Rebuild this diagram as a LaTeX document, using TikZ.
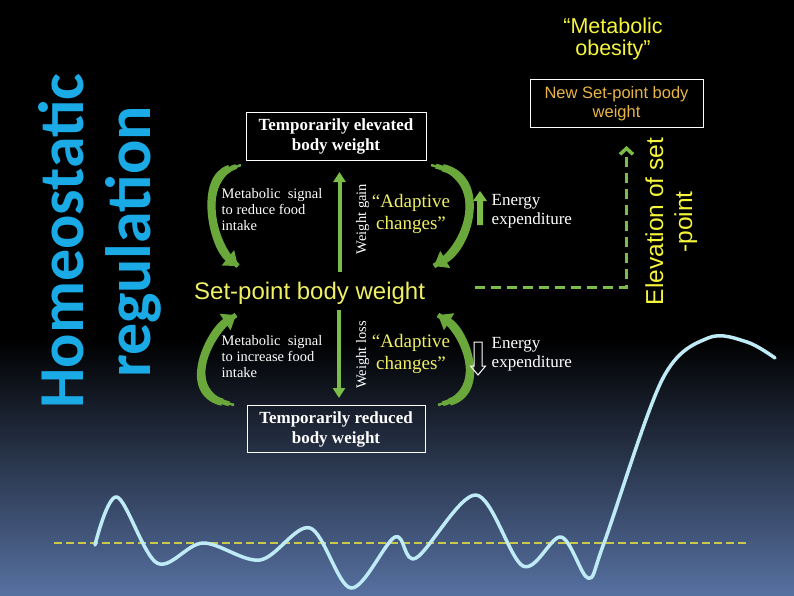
\documentclass[tikz,border=0pt]{standalone}
\usepackage{fontspec}
\setmainfont{Liberation Serif}
\newfontfamily\arialf{Liberation Sans}
\newfontfamily\calib{Carlito}
\usetikzlibrary{arrows.meta}
\definecolor{homeblue}{RGB}{26,170,230}
\definecolor{yelA}{RGB}{240,240,100}
\definecolor{yelB}{RGB}{245,245,60}
\definecolor{orangeT}{RGB}{232,180,72}
\definecolor{arcgreen}{RGB}{106,168,60}
\definecolor{lgreen}{RGB}{124,189,74}
\definecolor{wavec}{RGB}{190,235,245}
\definecolor{dashy}{RGB}{200,200,75}
\definecolor{bgbot}{RGB}{86,112,160}
\begin{document}
\begin{tikzpicture}[x=1pt,y=-1pt,
  homef/.style={inner sep=0pt, text=homeblue, font=\calib\bfseries\fontsize{64pt}{64pt}\selectfont},
  elevf/.style={inner sep=0pt, text=yelB, font=\arialf\fontsize{24.5pt}{29pt}\selectfont},
  boxnode/.style={draw=white, line width=1pt, inner sep=0pt, align=center, text=white,
     font=\fontsize{17pt}{20pt}\selectfont\bfseries},
  newbox/.style={draw=white, line width=1pt, inner sep=0pt, align=center, text=orangeT,
     font=\arialf\fontsize{16.5pt}{19pt}\selectfont},
  smallw/.style={inner sep=0pt, align=left, text=white, font=\fontsize{14.5pt}{16pt}\selectfont},
  adapt/.style={inner sep=0pt, align=center, text=yelA, font=\fontsize{19pt}{22pt}\selectfont},
  energy/.style={inner sep=0pt, align=left, text=white, font=\fontsize{17pt}{19.5pt}\selectfont},
  wlabel/.style={inner sep=0pt, text=white, font=\fontsize{14.5pt}{16pt}\selectfont},
  vertarrow/.style={draw=lgreen, line width=4pt, -{Triangle[length=10pt,width=12pt]}},
  arcthin/.style={draw=arcgreen, line width=2.5pt},
  arcmid/.style={draw=arcgreen, line width=5pt, shorten <=5pt},
  arcarrow/.style={draw=arcgreen, line width=7.5pt, shorten <=12pt, -{Triangle[length=13pt,width=19pt]}},
  gdash/.style={draw=lgreen, line width=3.5pt, dash pattern=on 10pt off 6pt, -{Straight Barb[length=6pt,width=13pt]}},
  ydash/.style={draw=dashy, line width=1.2pt, dash pattern=on 8pt off 4pt},
  wave/.style={draw=wavec, line width=3.5pt, line join=round, line cap=round}
]
\useasboundingbox (0,0) rectangle (794,595);
% background
\fill[black] (0,0) rectangle (794,595);
\shade[top color=black, bottom color=bgbot] (0,340) rectangle (794,595);

% title
\node[homef, anchor=base, rotate=90] (homeo) at (83,241) {Homeostatic};
\node[homef, anchor=base, rotate=90] (regul) at (150,242) {regulation};

% top label
\node[inner sep=0pt, align=center, text=yelB, font=\arialf\fontsize{21.5pt}{22pt}\selectfont] (obes) at (613,38.5) {“Metabolic\\obesity”};
\node[newbox, minimum width=173pt, minimum height=48pt] (newsp) at (616.5,103.5) {New Set-point body\\weight};

% boxes
\node[boxnode, minimum width=180pt, minimum height=48pt] (elev) at (336,136.5) {Temporarily elevated\\body weight};
\node[boxnode, minimum width=178pt, minimum height=47pt] (redu) at (336,429) {Temporarily reduced\\body weight};

% set point
\node[inner sep=0pt, anchor=base west, text=yelA, font=\arialf\fontsize{24pt}{26pt}\selectfont] (setpt) at (194,299) {Set-point body weight};

% elevation of set-point
\node[elevf, anchor=base, rotate=90] (elev1) at (663,221.5) {Elevation of set};
\node[elevf, anchor=base, rotate=90] (elev2) at (692,222) {-point};

% texts upper
\node[smallw, anchor=north west] (sigup) at (221.5,188) {Metabolic\ \ signal\\to reduce food\\intake};
\node[adapt, anchor=north] (adup) at (411,194) {“Adaptive\\changes”};
\node[energy, anchor=north west] (enup) at (491.5,194) {Energy\\expenditure};
\node[wlabel, anchor=base, rotate=90] (wgain) at (366,219) {Weight gain};

% texts lower
\node[smallw, anchor=north west] (sigdn) at (221.5,335) {Metabolic\ \ signal\\to increase food\\intake};
\node[adapt, anchor=north] (addn) at (411,334) {“Adaptive\\changes”};
\node[energy, anchor=north west] (endn) at (491.5,337) {Energy\\expenditure};
\node[wlabel, anchor=base, rotate=90] (wloss) at (366,355) {Weight loss};

% vertical arrows
\coordinate (gainS) at (339.5,272);
\coordinate (gainE) at (339.5,172);
\draw[vertarrow] (gainS) -- (gainE);
\coordinate (lossS) at (339,310);
\coordinate (lossE) at (339,398);
\draw[vertarrow] (lossS) -- (lossE);

% curved arrows (tapered tails)
\coordinate (a1s) at (241,165);
\coordinate (a1e) at (238,266);
\coordinate (a2s) at (431,165);
\coordinate (a2e) at (434,266);
\coordinate (a3s) at (234,405);
\coordinate (a3e) at (236,315);
\coordinate (a4s) at (438,405);
\coordinate (a4e) at (438,315);
\foreach \st in {arcthin,arcmid,arcarrow}{
  \draw[\st] (a1s) .. controls (199,178) and (212,245) .. (a1e);
  \draw[\st] (a2s) .. controls (487,178) and (470,245) .. (a2e);
  \draw[\st] (a3s) .. controls (180,392) and (210,332) .. (a3e);
  \draw[\st] (a4s) .. controls (487,392) and (466,332) .. (a4e);
}

% small block arrows
\fill[lgreen] (477,225) -- (477,201) -- (473,201) -- (480,191) -- (487,201) -- (483,201) -- (483,225) -- cycle;
\draw[white, line width=1pt, line join=miter] (474,342) -- (482,342) -- (482,366) -- (485.5,366) -- (478,375) -- (470.5,366) -- (474,366) -- cycle;

% dashed elevation path
\coordinate (dashS) at (475,287.5);
\coordinate (dashE) at (626.5,146);
\draw[gdash] (dashS) -| (dashE);

% bottom baseline and wave
\coordinate (baseL) at (54,543);
\coordinate (baseR) at (750,543);
\draw[ydash] (baseL) -- (baseR);
\draw[wave] plot[smooth, tension=0.55] coordinates {(95,545) (117,497) (157,563) (203,543) (260,560) (310,528) (351,588) (395,537) (416,558) (476,495) (523,566) (561,537) (588,578) (604,543) (662,380) (708,338) (747,342) (775,358)};
\end{tikzpicture}
\end{document}
